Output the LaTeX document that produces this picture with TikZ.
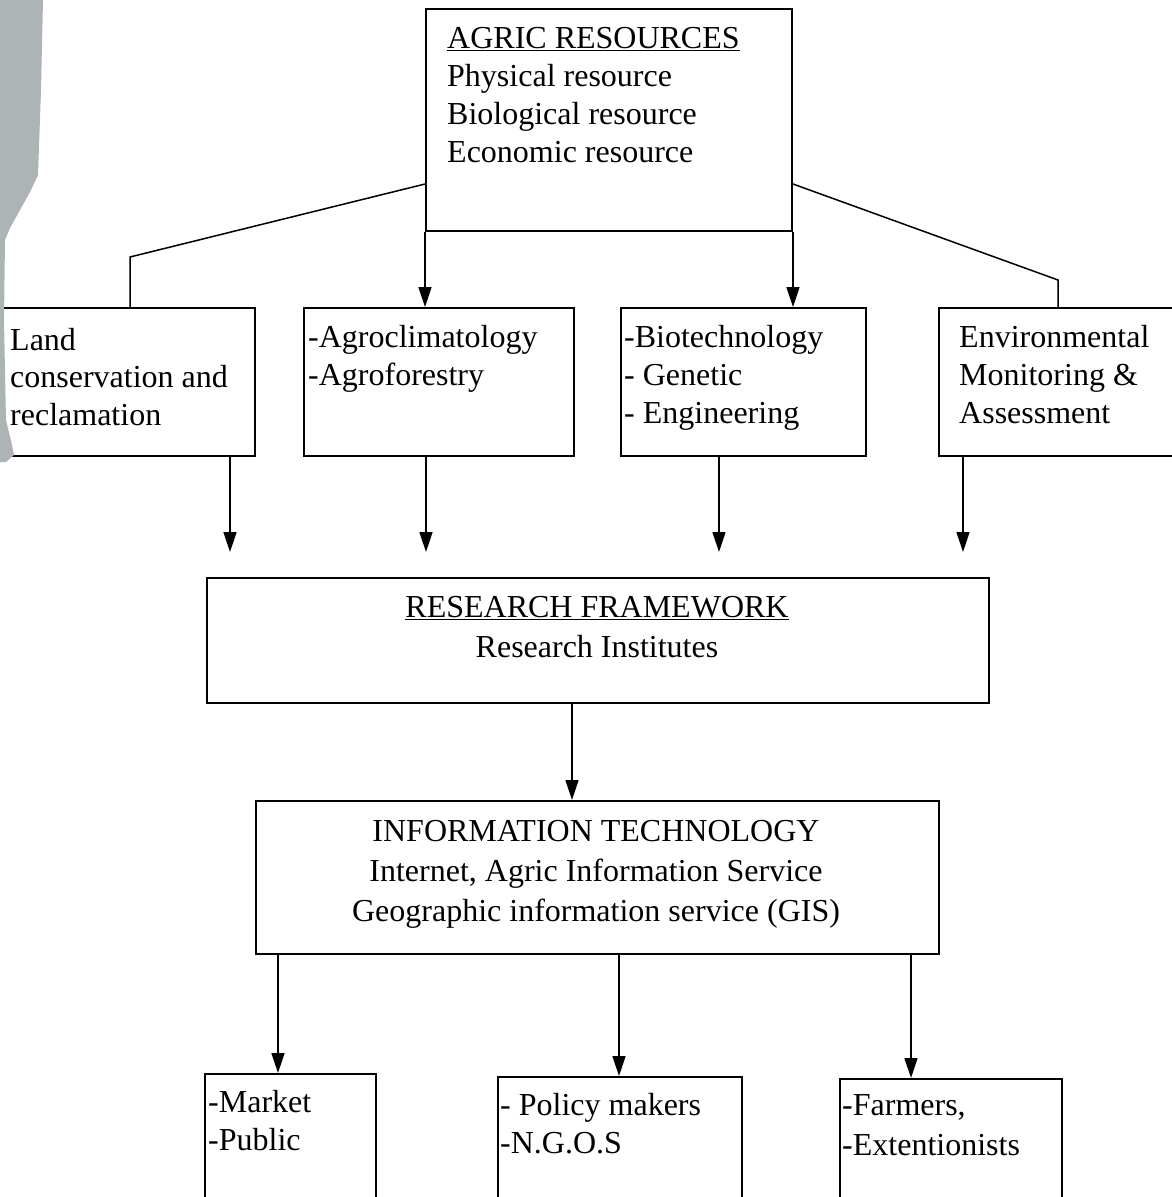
\documentclass[tikz,border=0pt]{standalone}
\usepackage{fontspec}
\setmainfont{Liberation Serif}
\usetikzlibrary{arrows.meta,calc}
\definecolor{tear}{RGB}{172,180,182}
\begin{document}
\begin{tikzpicture}[x=1pt,y=-1pt,
  box/.style={draw, line width=2pt, inner sep=0pt, anchor=north west},
  conn/.style={line width=1.5pt},
  arr/.style={line width=1.5pt, -{Triangle[length=20pt,width=13pt]}},
  txt/.style={font=\fontsize{32}{37.5}\selectfont, inner sep=0pt, align=left, anchor=north west},
  ctxt/.style={font=\fontsize{32}{40}\selectfont, inner sep=0pt, align=center, anchor=north}]
\useasboundingbox (0,0) rectangle (1172,1197);

% boxes
\node[box, minimum width=366pt, minimum height=222pt] (top) at (425,8) {};
\node[box, minimum width=274pt, minimum height=148pt] (land) at (-20,307) {};
\node[box, minimum width=270pt, minimum height=148pt] (agro) at (303,307) {};
\node[box, minimum width=245pt, minimum height=148pt] (bio) at (620,307) {};
\node[box, minimum width=260pt, minimum height=148pt] (env) at (938,307) {};
\node[box, minimum width=782pt, minimum height=125pt] (research) at (206,577) {};
\node[box, minimum width=683pt, minimum height=153pt] (it) at (255,800) {};
\node[box, minimum width=171pt, minimum height=140pt] (market) at (204,1073) {};
\node[box, minimum width=244pt, minimum height=140pt] (policy) at (497,1076) {};
\node[box, minimum width=222pt, minimum height=140pt] (farmers) at (839,1078) {};

% texts
\node[txt, font=\fontsize{32}{38}\selectfont] (ttop) at (447,26.8)
  {\underline{AGRIC RESOURCES}\\Physical resource\\Biological resource\\Economic resource};
\node[txt] (tland) at (10,328) {Land\\conservation and\\reclamation};
\node[txt, font=\fontsize{32}{38}\selectfont] (tagro) at (308,325) {-Agroclimatology\\-Agroforestry};
\node[txt, font=\fontsize{32}{38}\selectfont] (tbio) at (624,325) {-Biotechnology\\- Genetic\\- Engineering};
\node[txt, font=\fontsize{32}{38}\selectfont] (tenv) at (959,325) {Environmental\\Monitoring \&\\Assessment};
\node[ctxt] (tres) at (597,596) {\underline{RESEARCH FRAMEWORK}\\Research Institutes};
\node[ctxt] (tit) at (596,820) {INFORMATION TECHNOLOGY\\Internet, Agric Information Service\\Geographic information service (GIS)};
\node[txt, font=\fontsize{32}{38}\selectfont] (tmarket) at (208,1090) {-Market\\-Public};
\node[txt, font=\fontsize{32}{38}\selectfont] (tpolicy) at (500,1093) {- Policy makers\\-N.G.O.S};
\node[txt, font=\fontsize{32}{40}\selectfont] (tfarm) at (842,1094) {-Farmers,\\-Extentionists};

% connectors from top box
\coordinate (lk) at (130,257);
\coordinate (rk) at (1058,280);
\draw[conn] ($(top.south west)+(0,-48)$) -- (lk) -- (lk |- land.north);
\draw[conn] ($(top.south east)+(0,-48)$) -- (rk) -- (rk |- env.north);
\draw[arr] (top.south west) -- (top.south west |- agro.north);
\draw[arr] (top.south east) -- (top.south east |- bio.north);

% arrows towards research framework
\coordinate (d1) at (230,552);
\coordinate (d2) at (426,552);
\coordinate (d3) at (719,552);
\coordinate (d4) at (963,552);
\draw[arr] (d1 |- land.south) -- (d1);
\draw[arr] (d2 |- agro.south) -- (d2);
\draw[arr] (d3 |- bio.south) -- (d3);
\draw[arr] (d4 |- env.south) -- (d4);

% research -> IT
\coordinate (rc) at (572,750);
\draw[arr] (rc |- research.south) -- (rc |- it.north);

% IT -> bottom boxes
\coordinate (b1) at (278,1000);
\coordinate (b2) at (619,1000);
\coordinate (b3) at (911,1000);
\draw[arr] (b1 |- it.south) -- (b1 |- market.north);
\draw[arr] (b2 |- it.south) -- (b2 |- policy.north);
\draw[arr] (b3 |- it.south) -- (b3 |- farmers.north);

% torn paper edge on the left
\fill[tear] (0,0) -- (43,0) -- (41,90) -- (38,175) -- (30,192) -- (20,210) -- (10,228)
  -- (5,240) -- (4,320) -- (6,420) -- (12,445) -- (14,455) -- (6,462) -- (0,462) -- cycle;
\end{tikzpicture}
\end{document}
